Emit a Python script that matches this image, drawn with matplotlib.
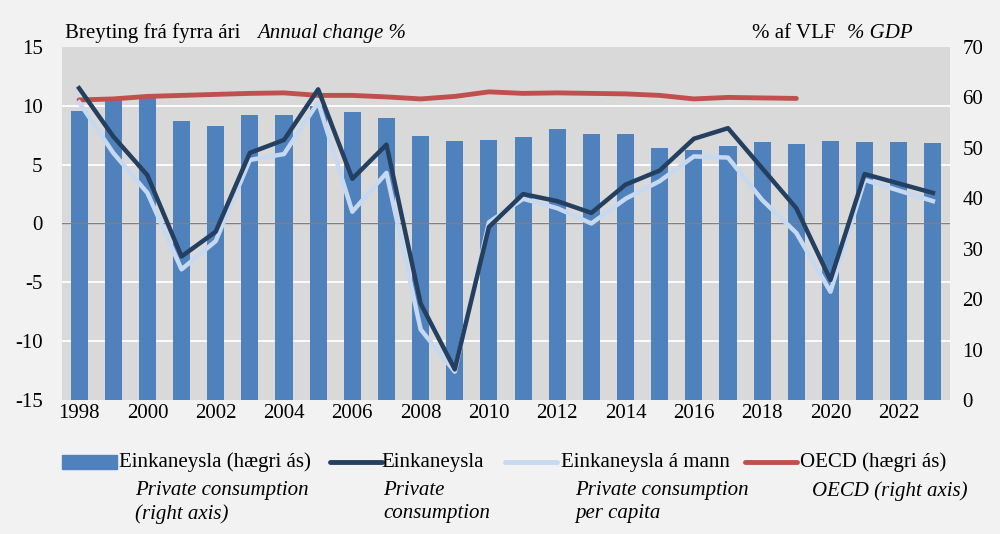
import matplotlib
matplotlib.use('Agg')
import matplotlib.pyplot as plt
import numpy as np
from matplotlib.lines import Line2D
from matplotlib.patches import Rectangle

plt.rcParams['font.family'] = ['Liberation Serif', 'DejaVu Serif']
plt.rcParams['axes.unicode_minus'] = False

years = list(range(1998, 2024))
# Einkaneysla, % af VLF (right axis)
pc_gdp = [57.3, 59.5, 59.8, 55.4, 54.4, 56.6, 56.5, 58.3, 57.1, 56.0,
          52.3, 51.3, 51.6, 52.2, 53.7, 52.8, 52.8, 50.0, 49.6, 50.4,
          51.1, 50.7, 51.4, 51.1, 51.1, 50.9]
# OECD, % af VLF (right axis)
oecd_years = list(range(1998, 2020))
oecd = [59.5, 59.7, 60.2, 60.4, 60.6, 60.8, 60.9, 60.4, 60.4, 60.1,
        59.7, 60.2, 61.1, 60.8, 60.9, 60.8, 60.7, 60.4, 59.7, 60.0,
        59.9, 59.8]
# annual change % (left axis)
pc_change = [11.5, 7.4, 4.1, -2.8, -0.7, 6.0, 7.1, 11.4, 3.8, 6.7,
             -6.8, -12.4, -0.3, 2.5, 1.9, 0.9, 3.3, 4.5, 7.2, 8.1,
             4.7, 1.3, -4.8, 4.2, 3.4, 2.6]
pc_capita = [10.3, 6.0, 2.6, -3.9, -1.5, 5.4, 5.9, 10.3, 1.0, 4.3,
             -9.0, -12.6, 0.1, 2.1, 1.3, 0.0, 2.1, 3.6, 5.7, 5.6,
             2.0, -0.8, -5.8, 3.7, 2.8, 1.9]

c_bar = '#4f81bd'
c_dark = '#243f60'
c_light = '#c6d9f1'
c_red = '#c0504d'
FS = 15

fig = plt.figure(figsize=(10, 5.34), dpi=100)
fig.patch.set_facecolor('#f2f2f2')

ax = fig.add_axes([0.062, 0.251, 0.888, 0.661])
ax.set_facecolor('#d9d9d9')
ax.bar(years, pc_gdp, width=0.5, color=c_bar, zorder=2)
ax.plot(oecd_years, oecd, color=c_red, lw=3.5, zorder=3, solid_capstyle='round')
ax.set_ylim(0, 70)
ax.set_yticks(np.arange(0, 71, 10))
ax.set_yticks(np.linspace(0, 70, 7), minor=True)
ax.grid(which='minor', axis='y', color='white', lw=1.3, zorder=1)
ax.set_xlim(1997.5, 2023.5)
ax.set_xticks(range(1998, 2024, 2))
ax.tick_params(axis='x', length=0, labelsize=FS, pad=3)
for s in ax.spines.values():
    s.set_visible(False)

ax2 = ax.twinx()
ax2.axhline(0, color='#808080', lw=1, zorder=1)
ax2.plot(years, pc_capita, color=c_light, lw=3.2, zorder=2)
ax2.plot(years, pc_change, color=c_dark, lw=3.2, zorder=3)
ax2.set_ylim(-15, 15)
ax2.set_yticks(np.arange(-15, 16, 5))
for s in ax2.spines.values():
    s.set_visible(False)

# twinx puts the axes on the other sides, swap them back
ax.yaxis.tick_right()
ax2.yaxis.tick_left()
ax.tick_params(axis='y', which='both', length=0, labelsize=FS, pad=9)
ax2.tick_params(axis='y', length=0, labelsize=FS, pad=14)

ty = 1 - 38 / 534
fig.text(0.065, ty, 'Breyting frá fyrra ári', fontsize=FS, va='baseline')
fig.text(0.257, ty, 'Annual change %', fontsize=FS, style='italic', va='baseline')
fig.text(0.752, ty, '% af VLF', fontsize=FS, va='baseline')
fig.text(0.847, ty, '% GDP', fontsize=FS, style='italic', va='baseline')

# legend, drawn by hand in figure coordinates
ly = 1 - 462 / 534
fig.patches.append(Rectangle((0.062, ly - 0.013), 0.055, 0.026,
                             transform=fig.transFigure, color=c_bar))
for x0, c in [(0.330, c_dark), (0.505, c_light), (0.745, c_red)]:
    fig.lines.append(Line2D([x0, x0 + 0.052], [ly, ly], transform=fig.transFigure,
                            color=c, lw=3.5, solid_capstyle='round'))
items = [(0.119, 'Einkaneysla (hægri ás)'), (0.381, 'Einkaneysla'),
         (0.561, 'Einkaneysla á mann'), (0.800, 'OECD (hægri ás)')]
for x0, t in items:
    fig.text(x0, ly, t, fontsize=FS, va='center')
eng = [(0.135, 'Private consumption\n(right axis)'), (0.383, 'Private\nconsumption'),
       (0.575, 'Private consumption\nper capita'), (0.812, 'OECD (right axis)')]
for x0, t in eng:
    fig.text(x0, 1 - 481 / 534, t, fontsize=FS, style='italic', va='top',
             linespacing=1.3)

fig.savefig('out.png', dpi=100, facecolor=fig.get_facecolor())
